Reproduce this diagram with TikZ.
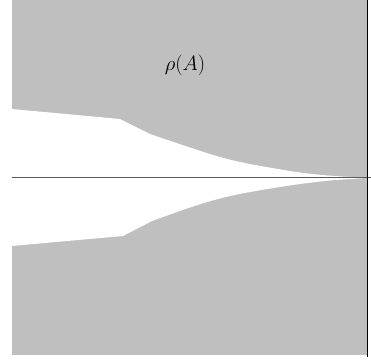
\documentclass[tikz,border=0pt]{standalone}
\begin{document}
\begin{tikzpicture}[x=1pt,y=-1pt,
  region/.style={fill=black!25, draw=none},
  hole/.style={fill=white, draw=none},
  axisline/.style={draw=black!65, line width=1.2pt},
  vline/.style={draw=black, line width=1.1pt}]
\useasboundingbox (0,0) rectangle (371,362);
\fill[region] (11.7,0) rectangle (366.5,355);
\fill[hole] (11.7,109) -- (120,119)
  -- plot[smooth, tension=0.6] coordinates {(150,134) (190,147.5) (220,157) (250,164) (300,172.5) (335,176) (363,177.6)}
  -- (363,178.2)
  -- plot[smooth, tension=0.6] coordinates {(335,180) (300,184) (250,192) (220,198.5) (190,207.5) (152,221)}
  -- (123,236) -- (11.7,246) -- cycle;
\coordinate (axL) at (11.7,177.5);
\coordinate (axR) at (371,177.5);
\draw[axisline] (axL) -- (axR);
\coordinate (vT) at (367.8,0);
\coordinate (vB) at (367.8,357);
\draw[vline] (vT) -- (vB);
\node[font=\fontsize{20}{22}\selectfont] (lbl) at (185,65) {$\rho(A)$};
\end{tikzpicture}
\end{document}
